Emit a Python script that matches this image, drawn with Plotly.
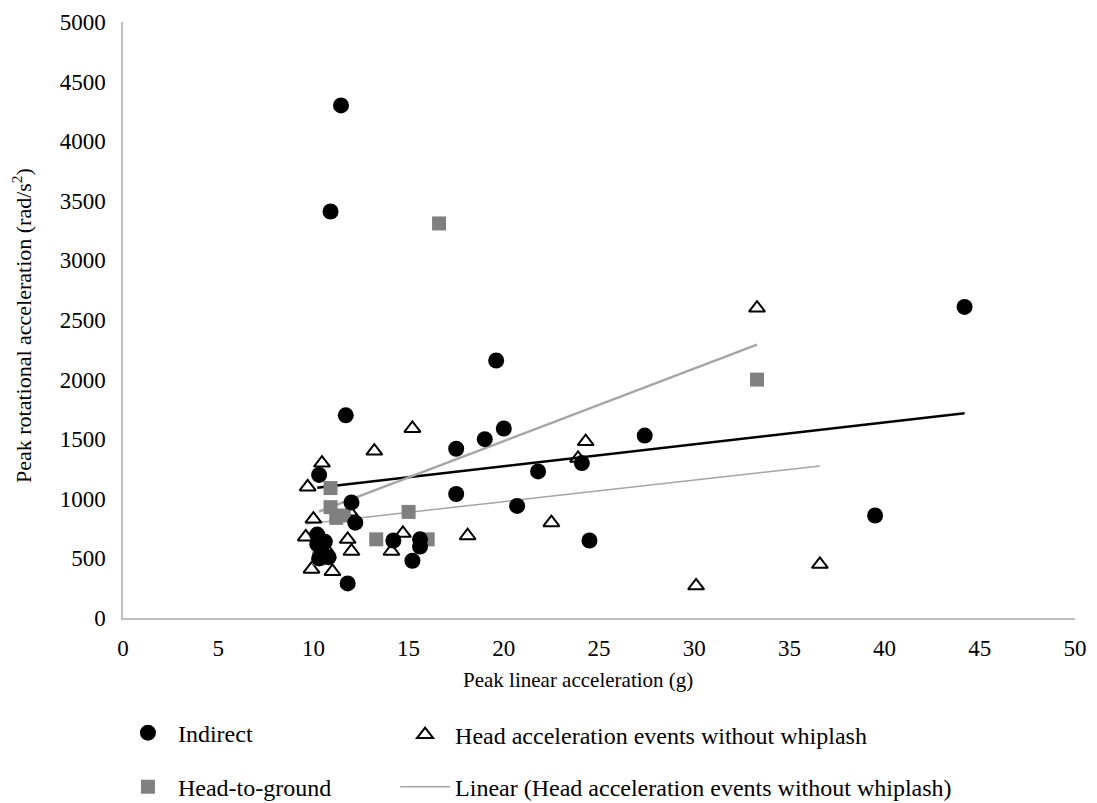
import numpy as np
import plotly.graph_objects as go

# Indirect events
indirect_x = [11.45, 10.9, 44.2, 39.5, 11.7, 19.6, 17.5, 19.0, 20.0, 27.4, 17.5, 21.8, 24.1,
              20.7, 24.5, 10.3, 12.0, 12.2, 10.2, 10.2, 10.8, 11.8, 14.2, 15.6, 15.6, 15.2,
              10.4, 10.3, 10.6]
indirect_y = [4300, 3410, 2610, 860, 1700, 2160, 1420, 1500, 1590, 1530, 1040, 1230, 1300,
              940, 650, 1200, 970, 800, 700, 620, 510, 290, 650, 660, 600, 480,
              580, 500, 640]

# Head-to-ground events
ground_x = [16.6, 33.3, 10.9, 10.9, 11.2, 11.6, 15.0, 13.3, 16.0, 10.3]
ground_y = [3310, 2000, 1090, 930, 840, 860, 890, 660, 660, 500]

# Head acceleration events without whiplash
nowhip_x = [33.3, 30.1, 36.6, 22.5, 24.3, 23.9, 15.2, 13.2, 10.45, 9.7, 10.0, 11.9, 9.6,
            11.8, 12.0, 10.6, 9.9, 11.0, 14.7, 14.1, 18.1]
nowhip_y = [2600, 270, 450, 800, 1480, 1340, 1590, 1400, 1300, 1100, 830, 890, 680,
            660, 560, 590, 410, 390, 710, 560, 690]

x_ticks = [0, 5, 10, 15, 20, 25, 30, 35, 40, 45, 50]
y_ticks = [0, 500, 1000, 1500, 2000, 2500, 3000, 3500, 4000, 4500, 5000]

FONT = "Liberation Serif, Times New Roman, serif"


def linear_fit(xs, ys):
    xs = np.asarray(xs, dtype=float)
    ys = np.asarray(ys, dtype=float)
    slope, intercept = np.polyfit(xs, ys, 1)
    xe = np.array([xs.min(), xs.max()])
    return xe, slope * xe + intercept


fig = go.Figure()

# Trend lines (drawn beneath the markers)
lx, ly = linear_fit(indirect_x, indirect_y)
fig.add_trace(go.Scatter(x=lx, y=ly, mode="lines", line=dict(color="black", width=2.5),
                         showlegend=False, hoverinfo="skip"))
lx, ly = linear_fit(ground_x, ground_y)
fig.add_trace(go.Scatter(x=lx, y=ly, mode="lines", line=dict(color="#A5A5A5", width=2.5),
                         showlegend=False, hoverinfo="skip"))
lx, ly = linear_fit(nowhip_x, nowhip_y)
fig.add_trace(go.Scatter(x=lx, y=ly, mode="lines", line=dict(color="#A5A5A5", width=1.5),
                         name="Linear (Head acceleration events without whiplash)",
                         legend="legend4"))

fig.add_trace(go.Scatter(x=nowhip_x, y=nowhip_y, mode="markers",
                         name="Head acceleration events without whiplash",
                         marker=dict(symbol="triangle-up-open", size=14, color="black",
                                     line=dict(width=2, color="black")),
                         legend="legend2"))
fig.add_trace(go.Scatter(x=ground_x, y=ground_y, mode="markers", name="Head-to-ground",
                         marker=dict(symbol="square", size=14, color="#808080",
                                     line=dict(width=0)),
                         legend="legend3"))
fig.add_trace(go.Scatter(x=indirect_x, y=indirect_y, mode="markers", name="Indirect",
                         marker=dict(symbol="circle", size=16, color="black",
                                     line=dict(width=0)),
                         legend="legend"))

legend_common = dict(font=dict(family=FONT, size=24, color="black"), bgcolor="rgba(0,0,0,0)",
                     borderwidth=0, itemwidth=50, xanchor="left", yanchor="middle",
                     itemclick=False, itemdoubleclick=False)

fig.update_layout(
    width=1097, height=803,
    margin=dict(l=123, r=22, t=22, b=185, autoexpand=False),
    paper_bgcolor="white", plot_bgcolor="white",
    font=dict(family=FONT, size=23, color="black"),
    xaxis=dict(range=[0, 50], tickvals=x_ticks, ticktext=[str(v) for v in x_ticks],
               showgrid=False, zeroline=False, showline=True, linecolor="#BFBFBF",
               linewidth=1.5, ticks="", ticklabelstandoff=9, automargin=False,
               tickfont=dict(family=FONT, size=23, color="black")),
    yaxis=dict(range=[0, 5000], tickvals=y_ticks, ticktext=[str(v) for v in y_ticks],
               showgrid=False, zeroline=False, showline=True, linecolor="#BFBFBF",
               linewidth=1.5, ticks="", ticklabelstandoff=11, automargin=False,
               tickfont=dict(family=FONT, size=23, color="black")),
    annotations=[
        dict(text="Peak linear acceleration (g)", xref="paper", yref="paper",
             x=0.478, y=-0.104, xanchor="center", yanchor="middle",
             showarrow=False, font=dict(family=FONT, size=21, color="black")),
        dict(text="Peak rotational acceleration (rad/s<sup>2</sup>)", xref="paper", yref="paper",
             x=-0.106, y=0.49, xanchor="center", yanchor="middle", textangle=-90,
             showarrow=False, font=dict(family=FONT, size=22, color="black")),
    ],
    legend=dict(x=-0.0053, y=-0.193, **legend_common),
    legend2=dict(x=0.2858, y=-0.1963, **legend_common),
    legend3=dict(x=-0.0053, y=-0.2836, **legend_common),
    legend4=dict(x=0.2858, y=-0.2836, **legend_common),
)

fig.write_html("out.html")
